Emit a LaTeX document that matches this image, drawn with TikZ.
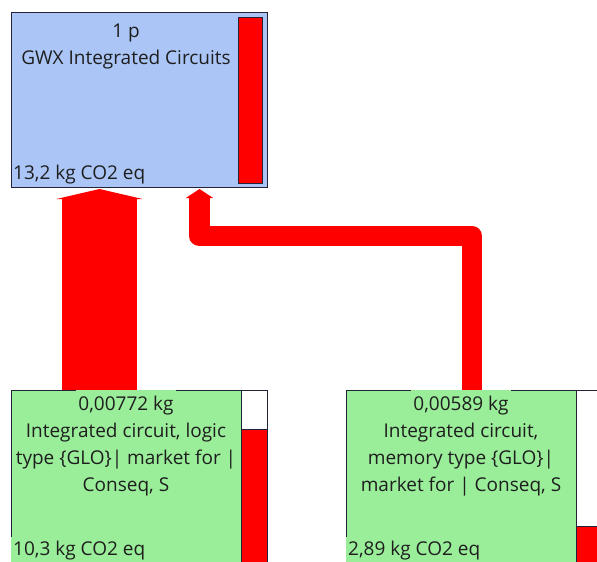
\documentclass[tikz,border=0pt]{standalone}
\usepackage{fontspec}
\setmainfont{Open Sans}
\usepackage{tikz}
\usetikzlibrary{arrows.meta,positioning,calc}
\definecolor{cBlue}{RGB}{171,198,246}
\definecolor{cGreen}{RGB}{154,238,154}
\definecolor{cRed}{RGB}{255,0,0}
\definecolor{cDark}{RGB}{35,35,55}
\definecolor{cText}{RGB}{30,30,30}
\tikzset{
  procbox/.style={rectangle,draw=cDark,line width=1pt,anchor=north west,inner sep=0pt},
  topbox/.style={procbox,fill=cBlue,minimum width=256pt,minimum height=175pt},
  subbox/.style={procbox,fill=cGreen,minimum width=230pt,minimum height=200pt},
  barbox/.style={procbox,fill=white,minimum width=26pt,minimum height=200pt},
  redbar/.style={procbox,fill=cRed},
  lbl/.style={font=\fontsize{19}{27}\selectfont,text=cText,align=center,inner sep=0pt},
  qtylbl/.style={lbl,fill=cGreen,inner xsep=2pt,minimum height=32pt},
  score/.style={font=\fontsize{19}{22}\selectfont,text=cText,anchor=west,
                inner xsep=2pt,inner ysep=5pt},
  mainflow/.style={draw=cRed,line width=75pt,-{Triangle[width=86pt,length=10pt]}},
  sideflow/.style={draw=cRed,line width=20.5pt,line join=round,
                   -{Triangle[width=27pt,length=9pt]}}
}

\begin{document}
\begin{tikzpicture}[x=1pt,y=-1pt]
  \useasboundingbox (0,0) rectangle (597,562);
  \clip (0,0) rectangle (597,562);

  \node[topbox] (gwx) at (11,12) {};
  \node[redbar,minimum width=24pt,minimum height=166pt] (gwxbar) at (238,17) {};
  \node[lbl] (gwxname) at (126,46.5) {1 p\\GWX Integrated Circuits};
  \node[score] (gwxscore) at (11,175) {13,2 kg CO2 eq};

  \node[subbox] (logic) at (11,390) {};
  \node[barbox] (logicbar) at (241,390) {};
  \node[redbar,minimum width=26pt,minimum height=170pt] (logicred) at (241,429) {};

  \node[subbox] (memory) at (346,390) {};
  \node[barbox] (memorybar) at (576,390) {};
  \node[redbar,minimum width=26pt,minimum height=60pt] (memoryred) at (576,526) {};

  \draw[mainflow] ($(logic.north west)+(88.5,0)$) -- ($(gwx.south west)+(88.5,1)$);
  \draw[sideflow] ($(memory.north west)+(126,0)$) |- ($(gwx.south west)+(188.5,48)$)
      -- ($(gwx.south west)+(188.5,1)$);

  \node[qtylbl] (logicqty) at (126,406) {0,00772 kg};
  \node[lbl] (logicname) at (126,460) {Integrated circuit, logic\\type \{GLO\}| market for |\\Conseq, S};
  \node[score,fill=cGreen] (logicscore) at (11,551) {10,3 kg CO2 eq};

  \node[qtylbl] (memoryqty) at (461,406) {0,00589 kg};
  \node[lbl] (memoryname) at (461,460) {Integrated circuit,\\memory type \{GLO\}|\\market for | Conseq, S};
  \node[score,fill=cGreen] (memoryscore) at (346,551) {2,89 kg CO2 eq};
\end{tikzpicture}
\end{document}
